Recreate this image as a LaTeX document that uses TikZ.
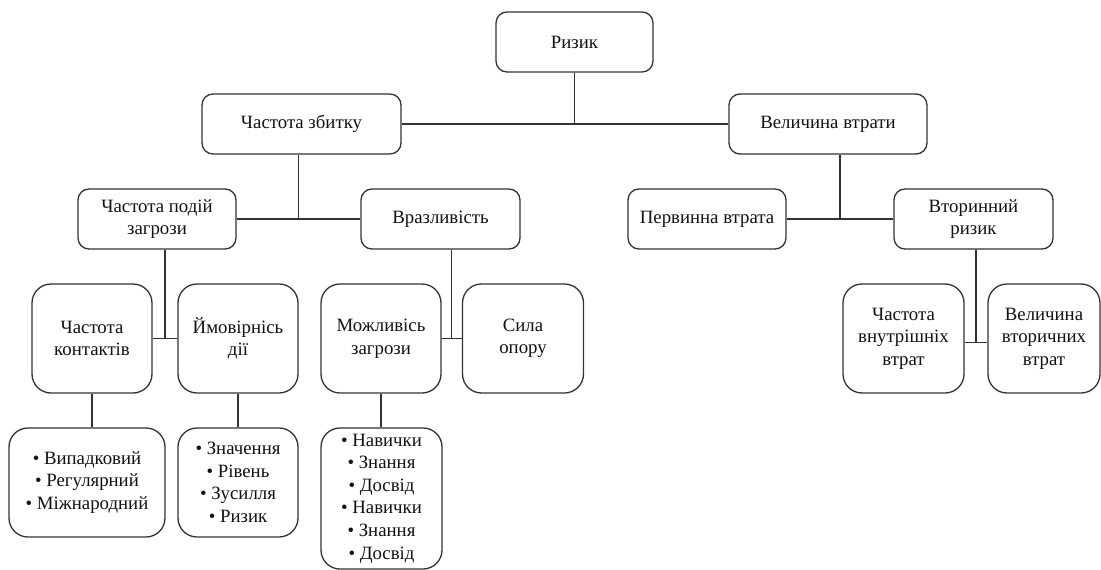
\documentclass[tikz,border=0pt]{standalone}
\usepackage{fontspec}
\setmainfont{Liberation Serif}
\usetikzlibrary{calc}
\definecolor{edge}{HTML}{333333}
\definecolor{ink}{HTML}{111111}
\begin{document}
\begin{tikzpicture}[x=1pt,y=-1pt,
  box/.style={draw=edge, line width=1.3pt, rounded corners=11pt, align=center,
    inner sep=0pt, text=ink, font=\fontsize{18.8}{22.6}\selectfont, minimum height=60pt},
  tall/.style={box, rounded corners=19pt, minimum height=109pt, minimum width=120pt},
  link/.style={draw=edge, line width=1.25pt}]
\useasboundingbox (0,0) rectangle (1101,570);

% top level
\node[box, minimum width=157pt] (rz) at (574.5,42) {Ризик};
\node[box, minimum width=199pt] (zb) at (301.5,124) {Частота збитку};
\node[box, minimum width=198pt] (vv) at (828,124) {Величина втрати};

% second level
\node[box, minimum width=158pt] (zp) at (157,219) {Частота подій\\загрози};
\node[box, minimum width=159pt] (vr) at (440.5,219) {Вразливість};
\node[box, minimum width=158pt] (pv) at (707,219) {Первинна втрата};
\node[box, minimum width=159pt] (vt) at (973.5,219) {Вторинний\\ризик};

% third level
\node[tall] (ck) at (92,338.5) {Частота\\контактів};
\node[tall] (ym) at (238,338.5) {Ймовірнісь\\дії};
\node[tall] (mz) at (381,338.5) {Можливісь\\загрози};
\node[tall, minimum width=121pt] (so) at (523,338.5) {Сила\\опору};
\node[tall, minimum width=121pt] (cv) at (903.5,338.5) {Частота\\внутрішніх\\втрат};
\node[tall, minimum width=112pt] (vvt) at (1044,338.5) {Величина\\вторичних\\втрат};

% bullet lists
\node[tall, minimum width=156pt] (b1) at (87,482.5) {• Випадковий\\• Регулярний\\• Міжнародний};
\node[tall] (b2) at (238,482.5) {• Значення\\• Рівень\\• Зусилля\\• Ризик};
\node[tall, minimum width=121pt, minimum height=141pt] (b3) at (381.5,498.5)
  {• Навички\\• Знання\\• Досвід\\• Навички\\• Знання\\• Досвід};

% junction points
\coordinate (j1) at ($(zp.east)!0.5!(vr.west)$);
\coordinate (j2) at ($(pv.east)!0.5!(vt.west)$);
\coordinate (j3) at ($(ck.east)!0.5!(ym.west)$);
\coordinate (j4) at ($(mz.east)!0.5!(so.west)$);
\coordinate (j5) at ($($(cv.east)!0.5!(vvt.west)$)+(0,4)$);

% connectors
\draw[link] (rz.south) -- (rz.south |- zb.east);
\draw[link] (zb.east) -- (vv.west);
\draw[link] (j1 |- zb.south) -- (j1);
\draw[link] (zp.east) -- (vr.west);
\draw[link] (j2 |- vv.south) -- (j2);
\draw[link] (pv.east) -- (vt.west);
\draw[link] (j3 |- zp.south) -- (j3);
\draw[link] (ck.east) -- (ym.west);
\draw[link] (j4 |- vr.south) -- (j4);
\draw[link] (mz.east) -- (so.west);
\draw[link] (j5 |- vt.south) -- (j5);
\draw[link] (cv.east |- j5) -- (vvt.west |- j5);
\draw[link] (ck.south) -- (ck.south |- b1.north);
\draw[link] (ym.south) -- (ym.south |- b2.north);
\draw[link] (mz.south) -- (mz.south |- b3.north);
\end{tikzpicture}
\end{document}
